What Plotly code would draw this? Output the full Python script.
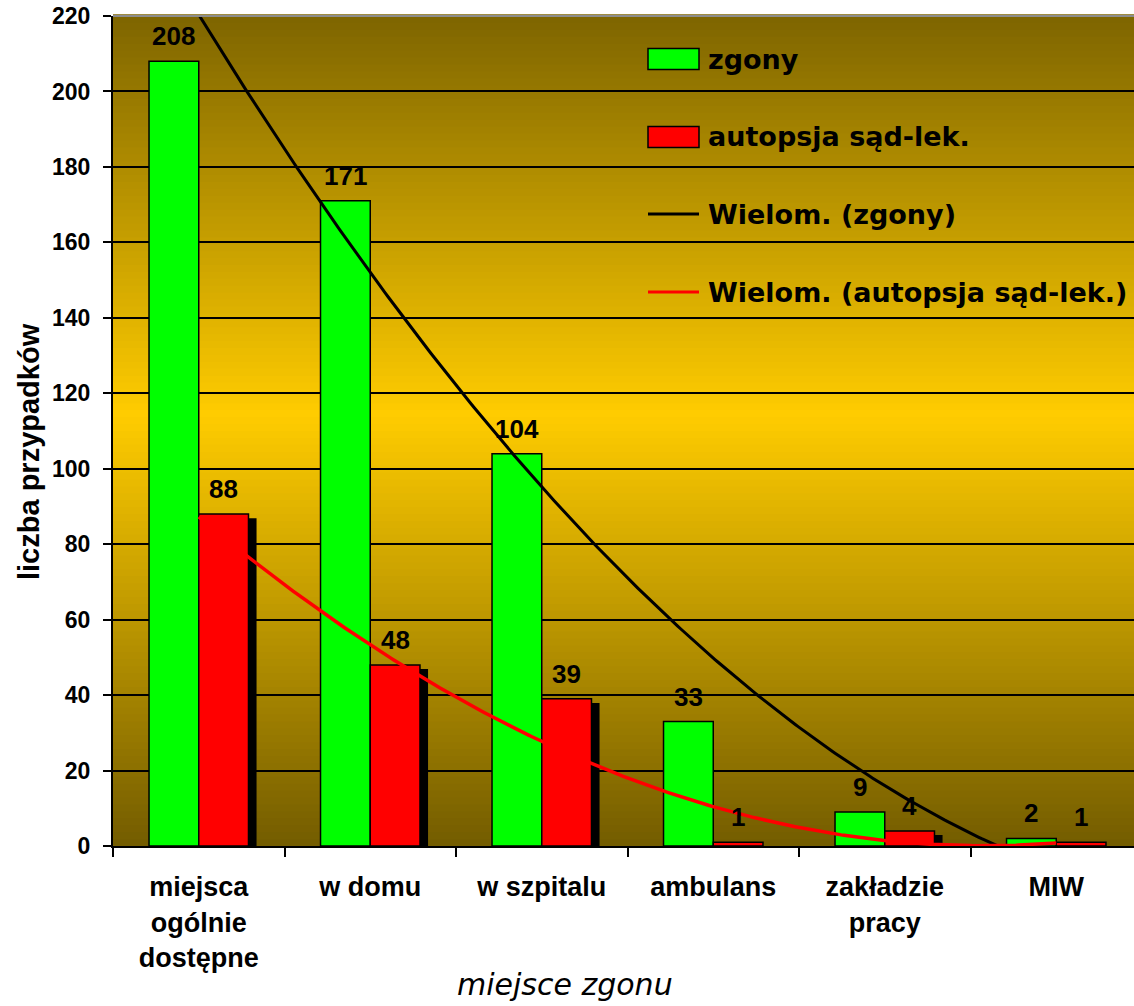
import numpy as np
import plotly.graph_objects as go

# ---- data -------------------------------------------------------------
categories = ["miejsca<br>ogólnie<br>dostępne", "w domu", "w szpitalu",
              "ambulans", "zakładzie<br>pracy", "MIW"]
zgony = [208, 171, 104, 33, 9, 2]
autopsja = [88, 48, 39, 1, 4, 1]
y_ticks = list(range(0, 221, 20))

series_names = ["zgony", "autopsja sąd-lek."]
trend_names = ["Wielom. (zgony)", "Wielom. (autopsja sąd-lek.)"]

# ---- geometry / style -------------------------------------------------
W, H = 1134, 1006
M_L, M_R, M_T, M_B = 113, 0, 16, 160
PLOT_W = W - M_L - M_R
PLOT_H = H - M_T - M_B

BAR_W = 0.29
SHADOW_DX = 0.047
SHADOW_DY = 1.1
GREEN = "#00FF00"
RED = "#FF0000"
DARK = (115, 92, 0)
GOLD = (255, 204, 0)

pos = np.arange(len(categories))


def px_x(px):
    return (px - M_L) / PLOT_W


def px_y(py):
    return (H - M_B - py) / PLOT_H


fig = go.Figure()

# drop shadow behind the red bars
fig.add_trace(go.Bar(
    x=pos, y=autopsja, base=-SHADOW_DY, offset=SHADOW_DX, width=BAR_W,
    marker=dict(color="black", line=dict(width=0)),
    showlegend=False, hoverinfo="skip"))

fig.add_trace(go.Bar(
    x=pos, y=zgony, offset=-BAR_W, width=BAR_W, name=series_names[0],
    marker=dict(color=GREEN, line=dict(color="black", width=1.5))))

fig.add_trace(go.Bar(
    x=pos, y=autopsja, offset=0, width=BAR_W, name=series_names[1],
    marker=dict(color=RED, line=dict(color="black", width=1.5))))

# second order polynomial trend lines
xs = np.linspace(pos[0], pos[-1], 300)
cz = np.polyfit(pos, zgony, 2)
ca = np.polyfit(pos, autopsja, 2)
fig.add_trace(go.Scatter(x=xs, y=np.polyval(cz, xs), mode="lines",
                         name=trend_names[0],
                         line=dict(color="black", width=3)))
fig.add_trace(go.Scatter(x=xs, y=np.polyval(ca, xs), mode="lines",
                         name=trend_names[1],
                         line=dict(color=RED, width=3.5)))

# value labels above the bars
label_font = dict(size=26, family="Liberation Sans", weight="bold",
                  color="black")
annotations = []
for i, v in enumerate(zgony):
    annotations.append(dict(x=pos[i] - BAR_W / 2, y=v, text=str(v),
                            showarrow=False, yshift=25, xref="x", yref="y",
                            font=label_font))
for i, v in enumerate(autopsja):
    annotations.append(dict(x=pos[i] + BAR_W / 2, y=v, text=str(v),
                            showarrow=False, yshift=25, xref="x", yref="y",
                            font=label_font))

# axis titles
annotations.append(dict(text="miejsce zgonu", x=px_x(565), y=px_y(984),
                        xref="paper", yref="paper", showarrow=False,
                        xanchor="center", yanchor="middle",
                        font=dict(size=30, family="DejaVu Sans",
                                  style="italic", color="black")))
annotations.append(dict(text="liczba przypadków", x=px_x(29), y=px_y(452),
                        xref="paper", yref="paper", showarrow=False,
                        xanchor="center", yanchor="middle",
                        textangle=-90,
                        font=dict(size=29, family="Liberation Sans",
                                  weight="bold", color="black")))

# background: vertical gradient dark olive -> gold -> dark olive
shapes = []
N = 120
for k in range(N):
    t = (k + 0.5) / N
    f = 1 - abs(t - 0.52) / 0.52
    f = max(0.0, min(1.0, f))
    col = tuple(int(round(DARK[c] + (GOLD[c] - DARK[c]) * f)) for c in range(3))
    shapes.append(dict(type="rect", xref="paper", yref="paper",
                       x0=0, x1=1, y0=k / N, y1=(k + 1) / N + 0.002,
                       fillcolor="rgb(%d,%d,%d)" % col, line=dict(width=0),
                       layer="below"))
shapes.append(dict(type="line", xref="paper", yref="paper", x0=0, x1=1,
                   y0=1, y1=1, line=dict(color="#8c8c8c", width=2)))

# legend
leg_x0, leg_x1, leg_tx = 648, 699, 706
leg_rows = [59, 137, 214, 292]
leg_font = dict(size=27, family="DejaVu Sans", weight="bold", color="black")
for row, (name, col) in zip(leg_rows[:2], zip(series_names, [GREEN, RED])):
    shapes.append(dict(type="rect", xref="paper", yref="paper",
                       x0=px_x(leg_x0), x1=px_x(leg_x1),
                       y0=px_y(row + 10.5), y1=px_y(row - 10.5),
                       fillcolor=col, line=dict(color="black", width=1.5)))
for row, (name, col) in zip(leg_rows[2:], zip(trend_names, ["black", RED])):
    shapes.append(dict(type="line", xref="paper", yref="paper",
                       x0=px_x(leg_x0), x1=px_x(leg_x1),
                       y0=px_y(row), y1=px_y(row),
                       line=dict(color=col, width=3)))
for row, name in zip(leg_rows, series_names + trend_names):
    annotations.append(dict(text=name, x=px_x(leg_tx), y=px_y(row),
                            xref="paper", yref="paper", showarrow=False,
                            xanchor="left", yanchor="middle", font=leg_font))

fig.update_layout(
    width=W, height=H,
    margin=dict(l=M_L, r=M_R, t=M_T, b=M_B, autoexpand=False),
    paper_bgcolor="white", plot_bgcolor="rgb(%d,%d,%d)" % GOLD,
    barmode="overlay", showlegend=False,
    font=dict(family="Liberation Sans", color="black"),
    shapes=shapes, annotations=annotations,
)

fig.update_xaxes(
    range=[-0.5, -0.5 + PLOT_W / 171.5], tickmode="array", tickvals=pos,
    ticktext=categories, ticks="", showgrid=False, zeroline=False,
    showline=True, linecolor="black", linewidth=2,
    tickfont=dict(size=27, family="Liberation Sans", weight="bold"),
    ticklabelstandoff=16,
    minor=dict(tickmode="array", tickvals=list(pos - 0.5) + [pos[-1] + 0.5],
               ticks="outside", ticklen=9, tickwidth=2, tickcolor="black",
               showgrid=False),
)
fig.update_yaxes(
    range=[0, 220], tickmode="array", tickvals=y_ticks,
    ticks="outside", ticklen=8, tickwidth=2, tickcolor="black",
    showgrid=True, gridcolor="black", gridwidth=1.5, zeroline=False,
    showline=True, linecolor="black", linewidth=2,
    tickfont=dict(size=23, family="Liberation Sans", weight="bold"),
    ticklabelstandoff=8,
)

fig.write_html("out.html")
